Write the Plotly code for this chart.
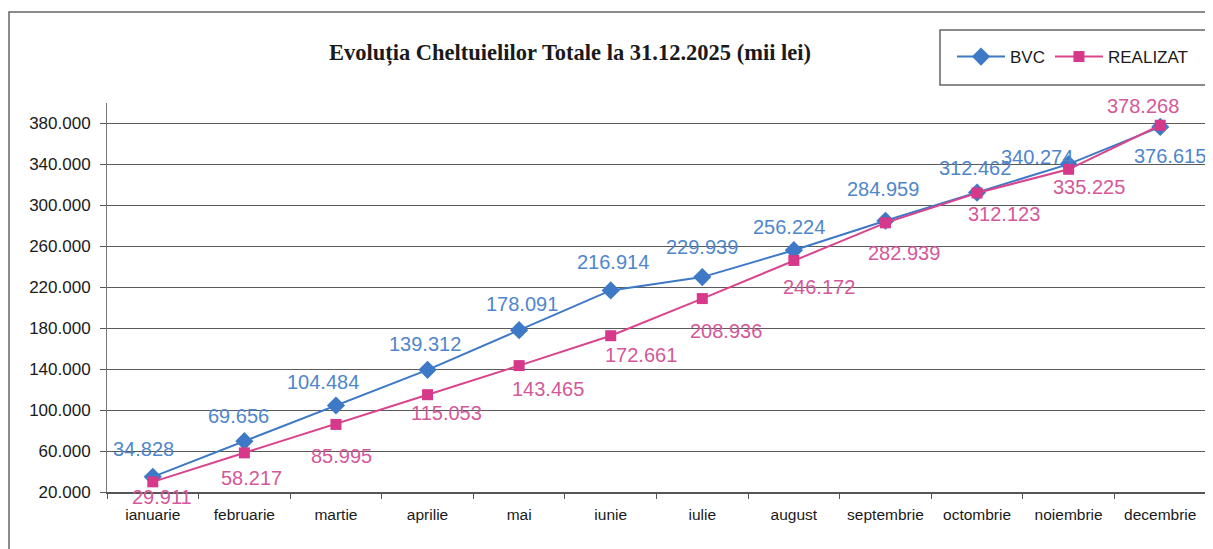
import plotly.graph_objects as go

months = ["ianuarie", "februarie", "martie", "aprilie", "mai", "iunie",
          "iulie", "august", "septembrie", "octombrie", "noiembrie", "decembrie"]
bvc = [34828, 69656, 104484, 139312, 178091, 216914,
       229939, 256224, 284959, 312462, 340274, 376615]
realizat = [29911, 58217, 85995, 115053, 143465, 172661,
            208936, 246172, 282939, 312123, 335225, 378268]

# label offsets (pixels, x right / y down) relative to the point, as in the reference
bvc_off = [(-9, -28), (-6, -25), (-13, -24), (-3, -26), (3, -26), (2, -28),
           (0, -30), (-5, -23), (-2, -32), (-2, -25), (-32, -7), (10, 29)]
real_off = [(9, 15), (7, 25), (6, 32), (19, 18), (29, 23), (30, 19),
            (24, 32), (25, 27), (19, 30), (27, 21), (20, 18), (-17, -19)]

OFF = 8  # page body margin of the browser
W, H = 1213 - OFF, 549 - OFF
L, R, T, B = 99, 7, 95, 57
pw, ph = W - L - R, H - T - B


def px(x):
    return (x - OFF - L) / pw


def py(y):
    return (H - B - (y - OFF)) / ph


BLUE, BLUE_T = "#3d79c6", "#4f86cc"
PINK, PINK_T = "#d9448d", "#d4589a"
FONT = "Liberation Sans, Arial"

fig = go.Figure()
fig.add_trace(go.Scatter(
    x=months, y=bvc, name="BVC", mode="lines+markers",
    line=dict(color=BLUE, width=2),
    marker=dict(symbol="diamond", size=14, color=BLUE),
    cliponaxis=False,
))
fig.add_trace(go.Scatter(
    x=months, y=realizat, name="REALIZAT", mode="lines+markers",
    line=dict(color=PINK, width=2),
    marker=dict(symbol="square", size=11, color="#d6388a"),
    cliponaxis=False,
))


def fmt(v):
    return f"{v:,}".replace(",", ".")


for m, v, (dx, dy) in zip(months, bvc, bvc_off):
    fig.add_annotation(x=m, y=v, text=fmt(v), showarrow=False,
                       xshift=dx, yshift=-dy, xanchor="center", yanchor="middle",
                       font=dict(family=FONT, size=20, color=BLUE_T))
for m, v, (dx, dy) in zip(months, realizat, real_off):
    fig.add_annotation(x=m, y=v, text=fmt(v), showarrow=False,
                       xshift=dx, yshift=-dy, xanchor="center", yanchor="middle",
                       font=dict(family=FONT, size=20, color=PINK_T))

fig.update_layout(
    width=W, height=H,
    margin=dict(l=L, r=R, t=T, b=B),
    paper_bgcolor="white", plot_bgcolor="white",
    separators=",.",
    font=dict(family=FONT, color="#1a1a1a"),
    title=dict(
        text="<b>Evoluția Cheltuielilor Totale la 31.12.2025 (mii lei)</b>",
        font=dict(family="Liberation Serif, Times New Roman", size=22.5, color="#1a1a1a"),
        xref="container", x=(570 - OFF) / W, xanchor="center",
        yref="container", y=1 - (52 - OFF) / H, yanchor="middle",
    ),
    legend=dict(
        orientation="h", x=px(952), xanchor="left", y=py(57), yanchor="middle",
        borderwidth=0, bgcolor="rgba(0,0,0,0)",
        font=dict(family=FONT, size=17, color="#1a1a1a"),
        itemwidth=48,
    ),
    xaxis=dict(
        type="category", range=[-0.5, 11.5], showgrid=False,
        showline=True, linecolor="#555555", linewidth=1.5,
        ticks="outside", ticklen=5, tickcolor="#555555", tickson="boundaries",
        ticklabelstandoff=8,
        tickfont=dict(size=15.5, color="#1a1a1a"),
    ),
    yaxis=dict(
        range=[20000, 400000], tick0=20000, dtick=40000, tickformat=",.0f",
        showgrid=True, gridcolor="#5a5a5a", gridwidth=1,
        showline=True, linecolor="#777777", linewidth=1,
        ticks="outside", ticklen=6, tickcolor="#555555",
        ticklabelstandoff=6,
        tickfont=dict(size=17, color="#1a1a1a"), zeroline=False,
    ),
    showlegend=True,
)

# outer chart border
fig.add_shape(type="rect", xref="paper", yref="paper",
              x0=px(9), x1=px(1230), y0=py(560), y1=py(12),
              line=dict(color="#666666", width=1.5), layer="below")
# legend box
fig.add_shape(type="rect", xref="paper", yref="paper",
              x0=px(940), x1=px(1207), y0=py(85), y1=py(30),
              line=dict(color="#666666", width=1.5), layer="below")

fig.write_html("out.html")
